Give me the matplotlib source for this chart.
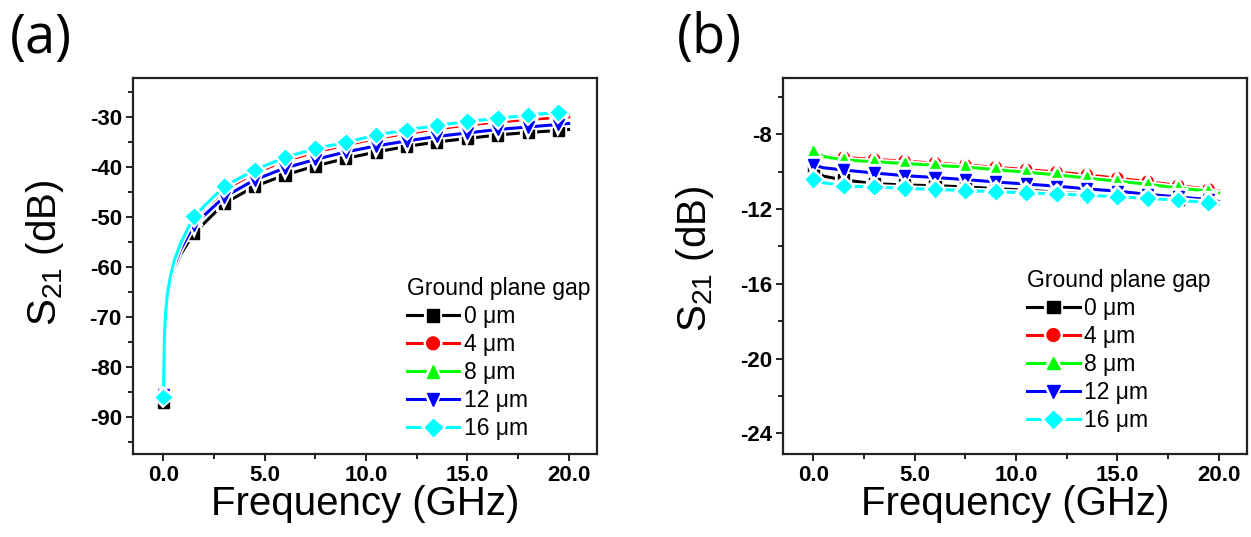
import matplotlib
matplotlib.use("Agg")
import matplotlib.pyplot as plt
import matplotlib.patheffects as pe
from matplotlib.ticker import MultipleLocator, FormatStrFormatter

# gap widths (um) and the style of each trace
gaps = [0, 4, 8, 12, 16]
colors = ["#000000", "#ff0000", "#00ff00", "#0000ff", "#00ffff"]
markers = ["s", "o", "^", "v", "D"]

# (a) S21 vs frequency, dense near DC where the curve rises steeply
freq_a = [0, 0.05, 0.1, 0.2, 0.35, 0.55, 0.85, 1.5, 3.0, 4.5, 6.0, 7.5, 9.0,
          10.5, 12.0, 13.5, 15.0, 16.5, 18.0, 19.5, 20.0]
marks_a = [0] + list(range(7, 20))
s21_a_0 = [-87.0, -76.5, -71.5, -67.5, -63.8, -60.5, -57.5, -53.3, -47.3, -43.9, -41.6,
           -39.8, -38.3, -37.0, -35.9, -35.0, -34.3, -33.6, -33.1, -32.7, -32.5]
s21_a_4 = [-85.0, -74.5, -69.8, -65.5, -62.0, -58.7, -55.5, -50.5, -44.6, -41.2, -38.8,
           -37.0, -35.6, -34.3, -33.3, -32.4, -31.6, -31.0, -30.5, -30.1, -30.0]
s21_a_8 = [-84.5, -74.0, -69.3, -65.0, -61.5, -58.2, -55.0, -50.0, -44.0, -40.6, -38.2,
           -36.4, -35.0, -33.8, -32.7, -31.8, -31.0, -30.3, -29.7, -29.2, -29.0]
s21_a_12 = [-85.6, -75.5, -70.7, -66.5, -63.0, -59.7, -56.5, -51.6, -46.0, -42.6, -40.2,
            -38.5, -37.0, -35.8, -34.8, -33.9, -33.2, -32.5, -32.0, -31.5, -31.3]
s21_a_16 = [-86.0, -74.3, -69.6, -65.3, -61.8, -58.5, -55.3, -49.9, -43.9, -40.6, -38.1,
            -36.3, -35.1, -33.6, -32.6, -31.7, -30.9, -30.3, -29.6, -29.1, -29.1]

# (b)
freq_b = [0, 0.5, 1.5, 3.0, 4.5, 6.0, 7.5, 9.0, 10.5, 12.0, 13.5, 15.0, 16.5, 18.0, 19.5, 20.0]
marks_b = [0] + list(range(2, 15))
s21_b_0 = [-9.93, -10.25, -10.45, -10.65, -10.72, -10.76, -10.82, -10.92, -11.0, -11.1,
           -11.2, -11.26, -11.38, -11.48, -11.56, -11.65]
s21_b_4 = [-9.05, -9.15, -9.25, -9.35, -9.45, -9.55, -9.66, -9.77, -9.9, -10.03,
           -10.18, -10.36, -10.54, -10.75, -10.95, -11.03]
s21_b_8 = [-8.95, -9.2, -9.38, -9.48, -9.57, -9.67, -9.76, -9.9, -10.04, -10.18,
           -10.35, -10.52, -10.68, -10.88, -11.05, -11.13]
s21_b_12 = [-9.65, -9.8, -9.92, -10.08, -10.22, -10.32, -10.43, -10.56, -10.67, -10.78,
            -10.93, -11.05, -11.22, -11.36, -11.5, -11.6]
s21_b_16 = [-10.42, -10.6, -10.77, -10.83, -10.9, -10.95, -11.02, -11.08, -11.14, -11.2,
            -11.27, -11.35, -11.44, -11.53, -11.67, -11.72]

plt.rcParams["font.family"] = ["Liberation Sans", "DejaVu Sans"]
plt.rcParams["axes.unicode_minus"] = False

fig = plt.figure(figsize=(12.51, 5.37), dpi=100)
ax_a = fig.add_axes([0.1063, 0.1546, 0.3709, 0.7002])
ax_b = fig.add_axes([0.6259, 0.1546, 0.3709, 0.7002])

halo = [pe.Stroke(linewidth=4.5, foreground="white"), pe.Normal()]


def draw(ax, freq, series, marks):
    for s, c, m, g in zip(series, colors, markers, gaps):
        ax.plot(freq, s, color=c, lw=2.2, marker=m, ms=8 if m != "D" else 7.5,
                mec=c, mfc=c, markevery=marks, label=f"{g} μm", path_effects=halo)


draw(ax_a, freq_a, [s21_a_0, s21_a_4, s21_a_8, s21_a_12, s21_a_16], marks_a)
draw(ax_b, freq_b, [s21_b_0, s21_b_4, s21_b_8, s21_b_12, s21_b_16], marks_b)

ax_a.set_ylim(-97.4, -22.2)
ax_a.yaxis.set_major_locator(MultipleLocator(10))
ax_a.yaxis.set_minor_locator(MultipleLocator(5))
ax_b.set_ylim(-25.1, -5.0)
ax_b.yaxis.set_major_locator(MultipleLocator(4))
ax_b.yaxis.set_minor_locator(MultipleLocator(2))

for ax in (ax_a, ax_b):
    ax.set_xlim(-1.5, 21.4)
    ax.xaxis.set_major_locator(MultipleLocator(5))
    ax.xaxis.set_minor_locator(MultipleLocator(2.5))
    ax.xaxis.set_major_formatter(FormatStrFormatter("%.1f"))
    for sp in ax.spines.values():
        sp.set_linewidth(1.6)
        sp.set_color("#222222")
    ax.tick_params(which="both", direction="out", top=False, right=False,
                   width=1.4, color="#222222", labelsize=16)
    ax.tick_params(which="major", length=5, pad=3)
    ax.tick_params(which="minor", length=3.5)
    ax.set_xlabel("Frequency (GHz)", fontsize=29)
    ax.xaxis.set_label_coords(0.5, -0.083)
    ax.set_ylabel(r"S$_\mathregular{21}$ (dB)", fontsize=29)

ax_a.yaxis.set_label_coords(-0.145, 0.536)
ax_b.yaxis.set_label_coords(-0.145, 0.518)

for ax, anchor in ((ax_a, (0.59, 0.47)), (ax_b, (0.526, 0.492))):
    leg = ax.legend(loc="upper left", bbox_to_anchor=anchor, frameon=False,
                    title="Ground plane gap", fontsize=16.5, title_fontsize=16.5,
                    alignment="left", borderpad=0, borderaxespad=0,
                    handlelength=2.3, handletextpad=0.2, labelspacing=0.22,
                    markerscale=1.15)

fig.canvas.draw()
for ax in (ax_a, ax_b):
    for lab in ax.get_xticklabels() + ax.get_yticklabels():
        lab.set_fontweight("bold")

fig.text(0.008, 0.901, "(a)", fontsize=39, family="Open Sans", va="baseline")
fig.text(0.541, 0.901, "(b)", fontsize=39, family="Open Sans", va="baseline")

fig.savefig("out.png", dpi=100)
